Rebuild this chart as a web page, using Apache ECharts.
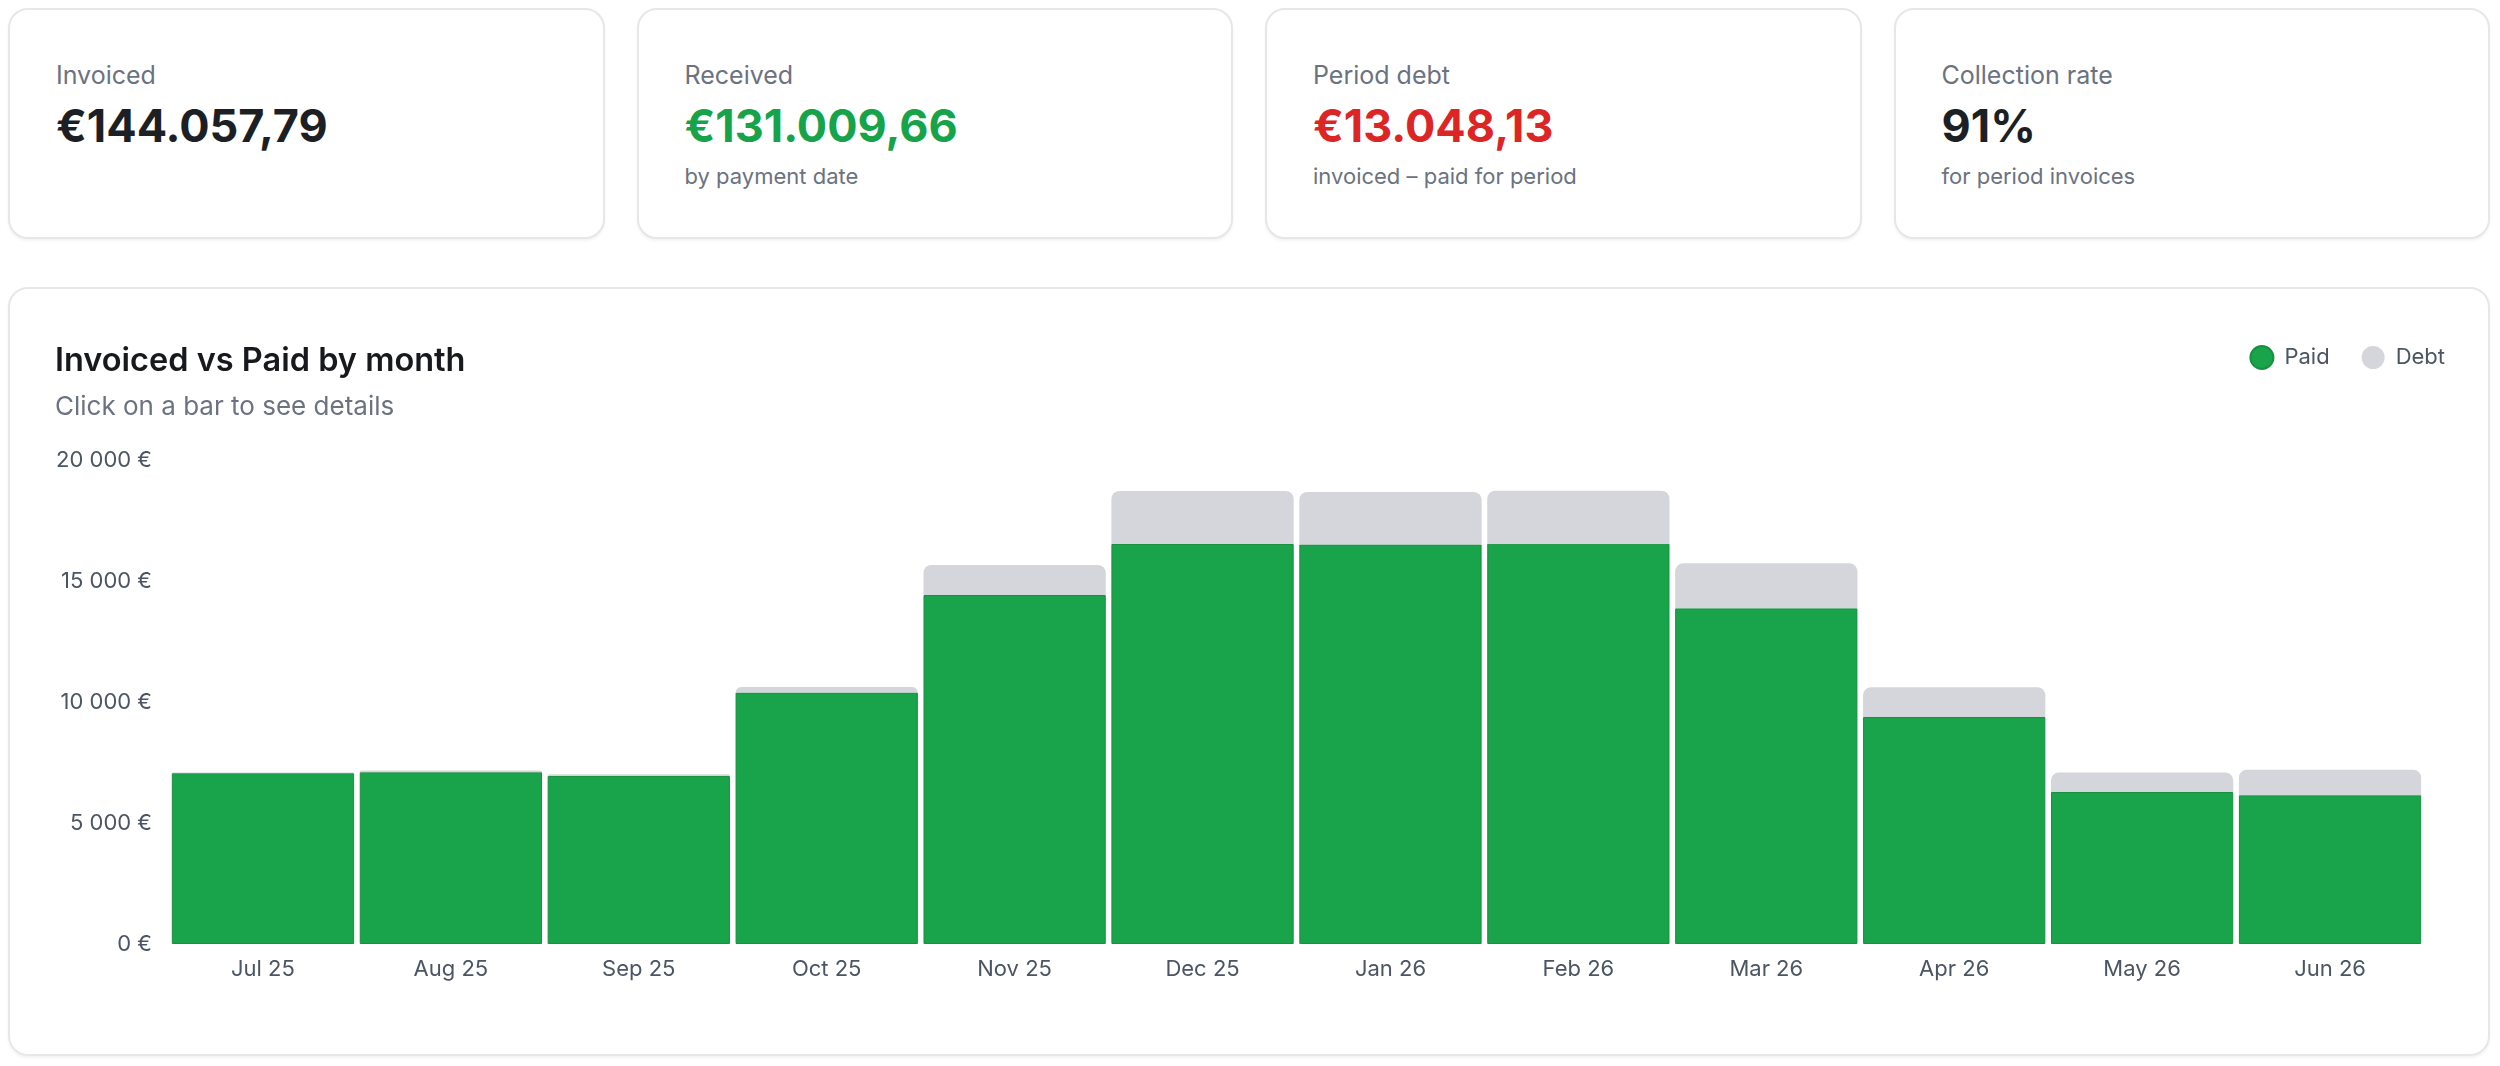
<!DOCTYPE html>
<html>
<head>
<meta charset="utf-8" />
<title>Invoiced vs Paid</title>
<script src="https://cdn.jsdelivr.net/npm/echarts@6/dist/echarts.min.js"></script>
<style>
	html, body { margin: 0; padding: 0; background: #fff; font-family: Inter, "Noto Sans", sans-serif; }
	#kpis { position: absolute; left: 8px; top: 8px; width: 2482px; height: 231px; display: flex; gap: 32px; }
	.card { flex: 1; box-sizing: border-box; border: 2px solid #e6e7eb; border-radius: 20px; background: #fff;
		box-shadow: 0 2px 3px rgba(0,0,0,0.05); padding: 53px 0 0 46px; }
	.card .lbl { font-size: 25px; line-height: 25px; color: #6b7280; }
	.card .val { font-size: 45px; line-height: 45px; font-weight: 700; margin-top: 15px; }
	.card .note { font-size: 22px; line-height: 22px; color: #6b7280; margin-top: 17px; }
	#box { position: absolute; left: 8px; top: 287px; width: 2482px; height: 769px; box-sizing: border-box;
		border: 2px solid #e6e7eb; border-radius: 20px; box-shadow: 0 2px 3px rgba(0,0,0,0.05); }
	#chart { position: absolute; left: 8px; top: 287px; width: 2482px; height: 769px; }
</style>
</head>
<body>
<div id="kpis"></div>
<div id="box"></div>
<div id="chart"></div>
<script type="text/javascript">
	// top cards
	var kpiLabels = ['Invoiced', 'Received', 'Period debt', 'Collection rate'];
	var kpiValues = ['€144.057,79', '€131.009,66', '€13.048,13', '91%'];
	var kpiNotes = ['', 'by payment date', 'invoiced – paid for period', 'for period invoices'];
	var kpiColors = ['#1c1f24', '#16a34a', '#dc2626', '#1c1f24'];

	// chart data
	var months = ['Jul 25', 'Aug 25', 'Sep 25', 'Oct 25', 'Nov 25', 'Dec 25', 'Jan 26', 'Feb 26', 'Mar 26', 'Apr 26', 'May 26', 'Jun 26'];
	var paid = [7060, 7100, 6940, 10390, 14420, 16530, 16510, 16540, 13870, 9380, 6280, 6150];
	var debt = [30, 70, 70, 230, 1240, 2190, 2170, 2190, 1860, 1230, 810, 1050];

	var html = '';
	for (var i = 0; i < kpiLabels.length; i++) {
		html += '<div class="card"><div class="lbl">' + kpiLabels[i] + '</div>' +
			'<div class="val" style="color:' + kpiColors[i] + '">' + kpiValues[i] + '</div>' +
			(kpiNotes[i] ? '<div class="note">' + kpiNotes[i] + '</div>' : '') + '</div>';
	}
	document.getElementById('kpis').innerHTML = html;

	function euro(v) {
		return String(v).replace(/\B(?=(\d{3})+(?!\d))/g, ' ') + ' €';
	}

	var myChart = echarts.init(document.getElementById('chart'));
	var option = {
		animation: false,
		textStyle: { fontFamily: 'Inter' },
		title: [
			{ text: 'Invoiced vs Paid by month', left: 47, top: 58, padding: 0,
				textStyle: { fontSize: 32.5, fontWeight: 600, color: '#17191d' } },
			{ text: 'Click on a bar to see details', left: 47, top: 107, padding: 0,
				textStyle: { fontSize: 26, fontWeight: 400, color: '#6b7280' } }
		],
		legend: {
			data: ['Paid', 'Debt'],
			right: 45,
			top: 58,
			padding: 0,
			icon: 'circle',
			itemWidth: 23,
			itemHeight: 23,
			itemGap: 32,
			textStyle: { fontSize: 22, color: '#4b5563', padding: [0, 0, 0, 6] }
		},
		grid: { left: 161, right: 66, top: 173, bottom: 112 },
		xAxis: {
			type: 'category',
			data: months,
			axisLine: { show: false },
			axisTick: { show: false },
			axisLabel: { fontSize: 22, color: '#4b5563', margin: 14 }
		},
		yAxis: {
			type: 'value',
			min: 0,
			max: 20000,
			interval: 5000,
			splitLine: { show: false },
			axisLabel: { fontSize: 22, color: '#4b5563', margin: 17, formatter: euro }
		},
		series: [
			{
				name: 'Paid', type: 'bar', stack: 'total', data: paid,
				barCategoryGap: '3%',
				itemStyle: { color: '#19a34b', borderColor: '#16913f', borderWidth: 1 }
			},
			{
				name: 'Debt', type: 'bar', stack: 'total', data: debt,
				barCategoryGap: '3%',
				itemStyle: { color: '#d5d6db', borderRadius: [8, 8, 0, 0] }
			}
		]
	};
	myChart.setOption(option);
</script>
</body>
</html>
